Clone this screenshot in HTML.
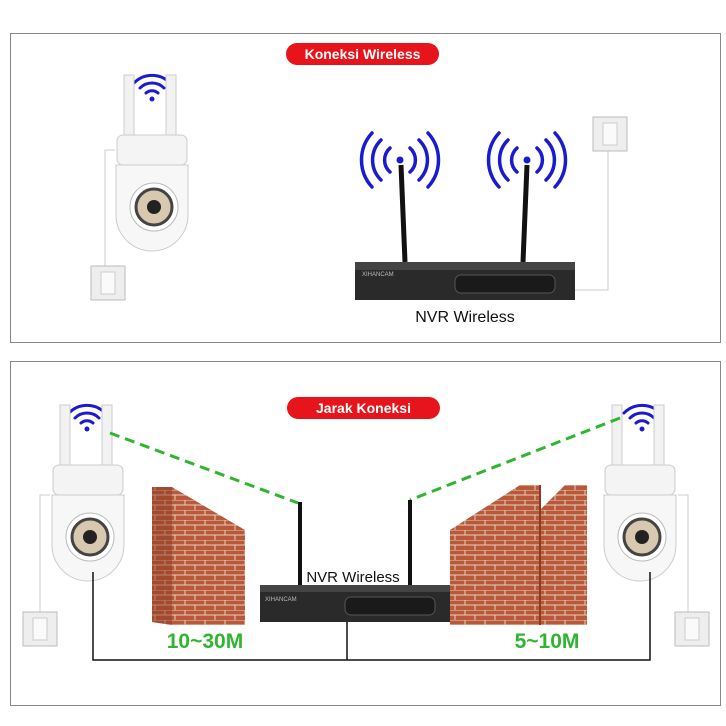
<!DOCTYPE html>
<html><head><style>
body{margin:0;width:726px;height:726px;background:#fff;position:relative;overflow:hidden;font-family:"Liberation Sans",sans-serif}
.box{position:absolute;border:1px solid #888;background:#fff}
.pill{position:absolute;background:#e8141b;color:#fff;font-weight:bold;font-size:14px;border-radius:11px;text-align:center;line-height:22px}
</style></head><body>
<div class="box" style="left:10px;top:33px;width:709px;height:308px"></div>
<div class="box" style="left:10px;top:361px;width:709px;height:343px"></div>
<svg width="726" height="726" style="position:absolute;left:0;top:0">
<defs>
<pattern id="brick" width="20" height="10" patternUnits="userSpaceOnUse">
<rect width="20" height="10" fill="#b85a3a"/>
<path d="M0 0H20M0 5H20M5 0V5M15 5V10" stroke="#e8cfc0" stroke-width="1"/>
</pattern>
<g id="wifi" fill="none" stroke="#1a1ad0" stroke-width="3" stroke-linecap="round">
<path d="M-6 -2A9 9 0 0 1 6 -2"/><path d="M-12 -7A17 17 0 0 1 12 -7"/><path d="M-18 -12A25 25 0 0 1 18 -12"/><circle cx="0" cy="4" r="2.5" fill="#1a1ad0" stroke="none"/>
</g>
<g id="waves" fill="none" stroke="#1a1ad0" stroke-width="3.5" stroke-linecap="round">
<path d="M-10 -12A16 16 0 0 0 -10 12M10 -12A16 16 0 0 1 10 12"/>
<path d="M-19 -20A28 28 0 0 0 -19 20M19 -20A28 28 0 0 1 19 20"/>
<path d="M-28 -27A40 40 0 0 0 -28 27M28 -27A40 40 0 0 1 28 27"/>
<circle cx="0" cy="0" r="3.5" fill="#1a1ad0" stroke="none"/>
</g>
<g id="cam">
<rect x="-28" y="-80" width="10" height="60" fill="#f2f2f2" stroke="#ccc"/>
<rect x="14" y="-80" width="10" height="60" fill="#f2f2f2" stroke="#ccc"/>
<rect x="-35" y="-20" width="70" height="30" rx="6" fill="#f4f4f4" stroke="#ccc"/>
<path d="M-36 10H36V60A36 36 0 0 1 -36 60Z" fill="#f7f7f7" stroke="#ccc"/>
<circle cx="2" cy="52" r="24" fill="#fff" stroke="#bbb"/>
<circle cx="2" cy="52" r="18" fill="#d8c8b0" stroke="#444" stroke-width="3"/>
<circle cx="2" cy="52" r="7" fill="#222"/>
</g>
<g id="sw"><rect x="0" y="0" width="34" height="34" fill="#eee" stroke="#bbb"/><rect x="10" y="6" width="14" height="22" fill="#fafafa" stroke="#ccc"/></g>
</defs>
<!-- top -->
<use href="#wifi" x="152" y="95"/>
<use href="#cam" x="152" y="155"/>
<path d="M115 150H105V268" stroke="#ccc" fill="none"/>
<use href="#sw" x="91" y="266"/>
<use href="#waves" x="400" y="160"/>
<use href="#waves" x="527" y="160"/>
<path d="M401 165L405 262M527 165L523 262" stroke="#111" stroke-width="5"/>
<rect x="355" y="262" width="220" height="38" fill="#2a2a2a"/>
<rect x="355" y="262" width="220" height="8" fill="#444"/>
<rect x="455" y="275" width="100" height="18" rx="6" fill="#1a1a1a" stroke="#555"/>
<text x="362" y="276" fill="#bbb" font-size="6" font-family="Liberation Sans">XIHANCAM</text>
<path d="M575 290H608V150" stroke="#ccc" fill="none"/>
<use href="#sw" x="593" y="117"/>
<text x="465" y="322" text-anchor="middle" font-size="16" fill="#111" font-family="Liberation Sans">NVR Wireless</text>
<!-- bottom -->
<use href="#wifi" x="87" y="425"/>
<use href="#cam" x="88" y="485"/>
<path d="M50 495H40V615" stroke="#ccc" fill="none"/>
<use href="#sw" x="23" y="612"/>
<use href="#wifi" x="642" y="425"/>
<use href="#cam" x="640" y="485"/>
<path d="M678 495H688V612" stroke="#ccc" fill="none"/>
<use href="#sw" x="675" y="612"/>
<path d="M110 433L298 503M620 418L410 500" stroke="#2fb52f" stroke-width="3" stroke-dasharray="10,6" fill="none"/>
<polygon points="152,487 172,487 245,530 245,625 172,625 152,622" fill="url(#brick)"/>
<polygon points="152,487 172,487 172,625 152,622" fill="#8c3a22" opacity=".5"/>
<polygon points="450,530 520,485 540,485 540,625 450,625" fill="url(#brick)"/>
<polygon points="540,510 565,485 587,485 587,625 540,625" fill="url(#brick)"/>
<path d="M540 485V625" stroke="#8c3a22" stroke-width="2"/>
<path d="M300 502V585M410 500V585" stroke="#111" stroke-width="4"/>
<rect x="260" y="585" width="190" height="37" fill="#2a2a2a"/>
<rect x="260" y="585" width="190" height="7" fill="#444"/>
<rect x="345" y="597" width="90" height="18" rx="6" fill="#1a1a1a" stroke="#555"/>
<text x="265" y="601" fill="#bbb" font-size="6" font-family="Liberation Sans">XIHANCAM</text>
<text x="353" y="582" text-anchor="middle" font-size="15" fill="#111" font-family="Liberation Sans">NVR Wireless</text>
<path d="M93 572V660H650V572M347 622V660" stroke="#111" stroke-width="1.5" fill="none"/>
<text x="205" y="648" text-anchor="middle" font-size="21" font-weight="bold" fill="#2fb52f" font-family="Liberation Sans">10~30M</text>
<text x="547" y="648" text-anchor="middle" font-size="21" font-weight="bold" fill="#2fb52f" font-family="Liberation Sans">5~10M</text>
</svg>
<div class="pill" style="left:286px;top:43px;width:153px">Koneksi Wireless</div>
<div class="pill" style="left:287px;top:397px;width:153px">Jarak Koneksi</div>
</body></html>
